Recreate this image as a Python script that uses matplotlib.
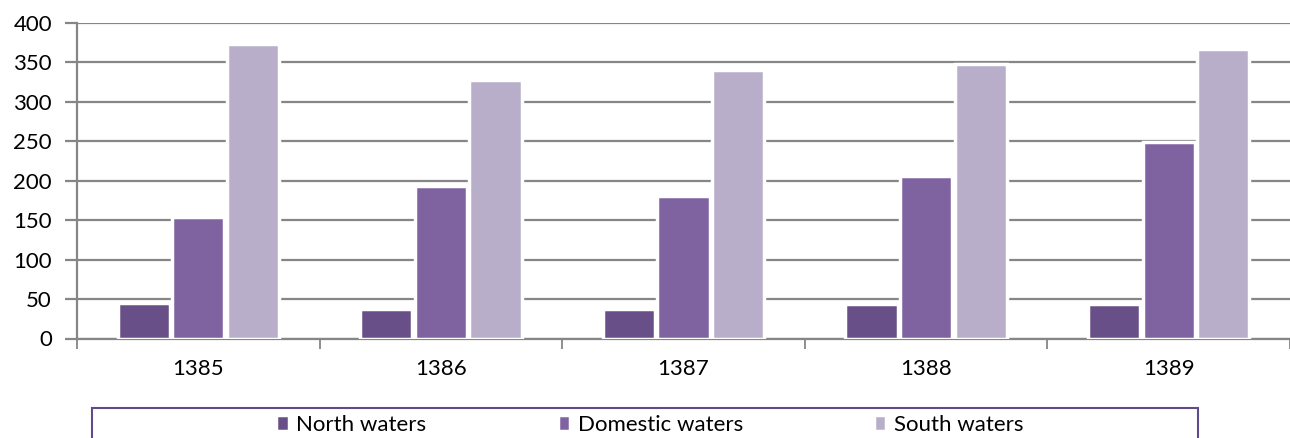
import numpy as np
import matplotlib
matplotlib.use('Agg')
import matplotlib.pyplot as plt
from matplotlib.patches import Rectangle
from matplotlib.ticker import MultipleLocator

years = ['1385', '1386', '1387', '1388', '1389']
series_names = ['North waters', 'Domestic waters', 'South waters']
north = [45, 38, 37, 44, 44]
domestic = [154, 193, 181, 206, 249]
south = [374, 328, 341, 348, 367]

colors = ['#684f88', '#7f63a1', '#b8aeca']

plt.rcParams['font.family'] = ['Lato', 'DejaVu Sans']

fig = plt.figure(figsize=(12.9, 4.38), dpi=100)
ax = fig.add_axes([77 / 1290, 1 - 338.5 / 438, 1 - 77 / 1290, (338.5 - 23) / 438])

x = np.arange(len(years))
width = 0.215
step = 0.225
for i, (vals, name) in enumerate(zip([north, domestic, south], series_names)):
    ax.bar(x + (i - 1) * step, vals, width, color=colors[i], label=name,
           edgecolor='white', linewidth=2.5, zorder=3)

ax.set_xlim(-0.5, len(years) - 0.5)
ax.set_ylim(0, 400)
ax.yaxis.set_major_locator(MultipleLocator(50))
ax.grid(axis='y', color='#868686', linewidth=1.6, zorder=0)
ax.set_axisbelow(True)

ax.set_xticks(x)
ax.set_xticklabels(years)
ax.set_xticks(np.arange(len(years) + 1) - 0.5, minor=True)
ax.tick_params(axis='x', which='major', length=0, pad=15, labelsize=16)
ax.tick_params(axis='x', which='minor', length=7, width=1.3, color='#868686')
ax.tick_params(axis='y', length=9, width=1.6, color='#868686', pad=9, labelsize=16)

for s in ['top', 'right']:
    ax.spines[s].set_visible(False)
for s in ['left', 'bottom']:
    ax.spines[s].set_color('#868686')
    ax.spines[s].set_linewidth(1.6)

# legend box (bottom edge cut off by figure border)
fig.patches.append(Rectangle((92 / 1290, -0.05), (1198 - 92) / 1290, 0.05 + 1 - 408 / 438,
                             transform=fig.transFigure, fill=False,
                             edgecolor='#5f4b8b', linewidth=1.5))
handles, labels = ax.get_legend_handles_labels()
fig.legend(handles, labels, loc='center', bbox_to_anchor=(650 / 1290, 1 - 425 / 438),
           ncol=3, frameon=False, fontsize=16, handlelength=0.55, handleheight=0.75,
           handletextpad=0.35, columnspacing=5.9, borderpad=0)

fig.savefig('out.png', dpi=100)
